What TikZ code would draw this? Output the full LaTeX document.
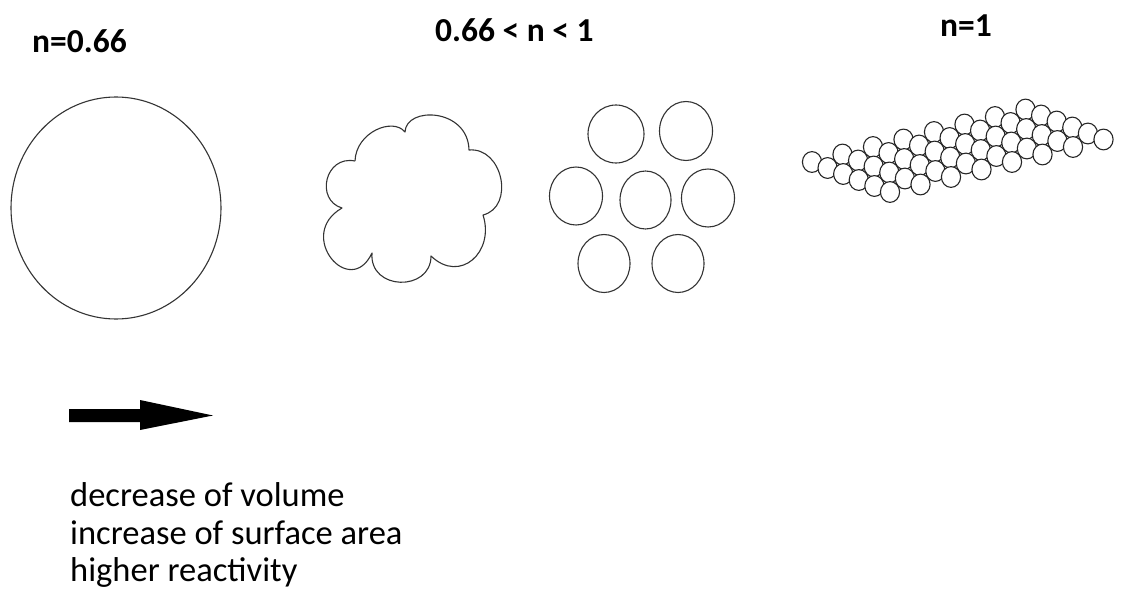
\documentclass[tikz,border=0pt]{standalone}
\usepackage{fontspec}
\setmainfont{Carlito}
\begin{document}
\begin{tikzpicture}[x=1pt,y=-1pt,
  outline/.style={draw=black!80, line width=1.1pt, line join=round},
  ball/.style={draw=black!85, fill=white, line width=1.1pt},
  title/.style={anchor=base west, inner sep=0pt, font=\bfseries\fontsize{33.5}{40}\selectfont},
  note/.style={anchor=base west, inner sep=0pt, font=\fontsize{34.5}{40}\selectfont}]
\useasboundingbox (0,0) rectangle (1121,599);

% headings
\node[title] (tsolid) at (32,53) {n=0.66};
\node[title] (tmid) at (435,42) {0.66 < n < 1};
\node[title] (tsheet) at (940,37) {n=1};

% one large particle
\draw[outline] (116,208) ellipse [x radius=105, y radius=111];

% agglomerate with a lobed outline
\draw[outline] (355,161)
  .. controls (356,132) and (393,117) .. (405,132)
  .. controls (406,106) and (468,108) .. (469,150)
  .. controls (503,147) and (515,207) .. (483,215)
  .. controls (495,252) and (460,284) .. (431,256)
  .. controls (431,292) and (369,291) .. (372,253)
  .. controls (350,300) and (295,235) .. (342,208)
  .. controls (315,200) and (325,155) .. (355,161);

% separate small particles
\foreach \cx/\cy/\rx/\ry in {616/134/28/29, 686/131/26.5/29.5,
    576/196/26.5/29, 645.5/200/25.5/29, 708/198/26.5/29,
    604/263.5/26/29, 678/263.5/26/29}
  \draw[outline] (\cx,\cy) ellipse [x radius=\rx, y radius=\ry];

% monolayer sheet of spheres, drawn back to front
\foreach \r in {7,6,...,0}
  \foreach \k in {0,...,5}
    \draw[ball] ({812+30.5*\r+15.6*\k},{162-7.5*\r+6*\k})
      ellipse [x radius=9.6, y radius=10.4];

% direction arrow
\fill (69,409) -- (140,409) -- (140,400) -- (213,415.5) -- (140,430)
  -- (140,422) -- (69,422) -- cycle;

% trend text
\node[note] (l1) at (70,506) {decrease of volume};
\node[note] (l2) at (70,544) {increase of surface area};
\node[note] (l3) at (70,581) {higher reactivity};
\end{tikzpicture}
\end{document}
